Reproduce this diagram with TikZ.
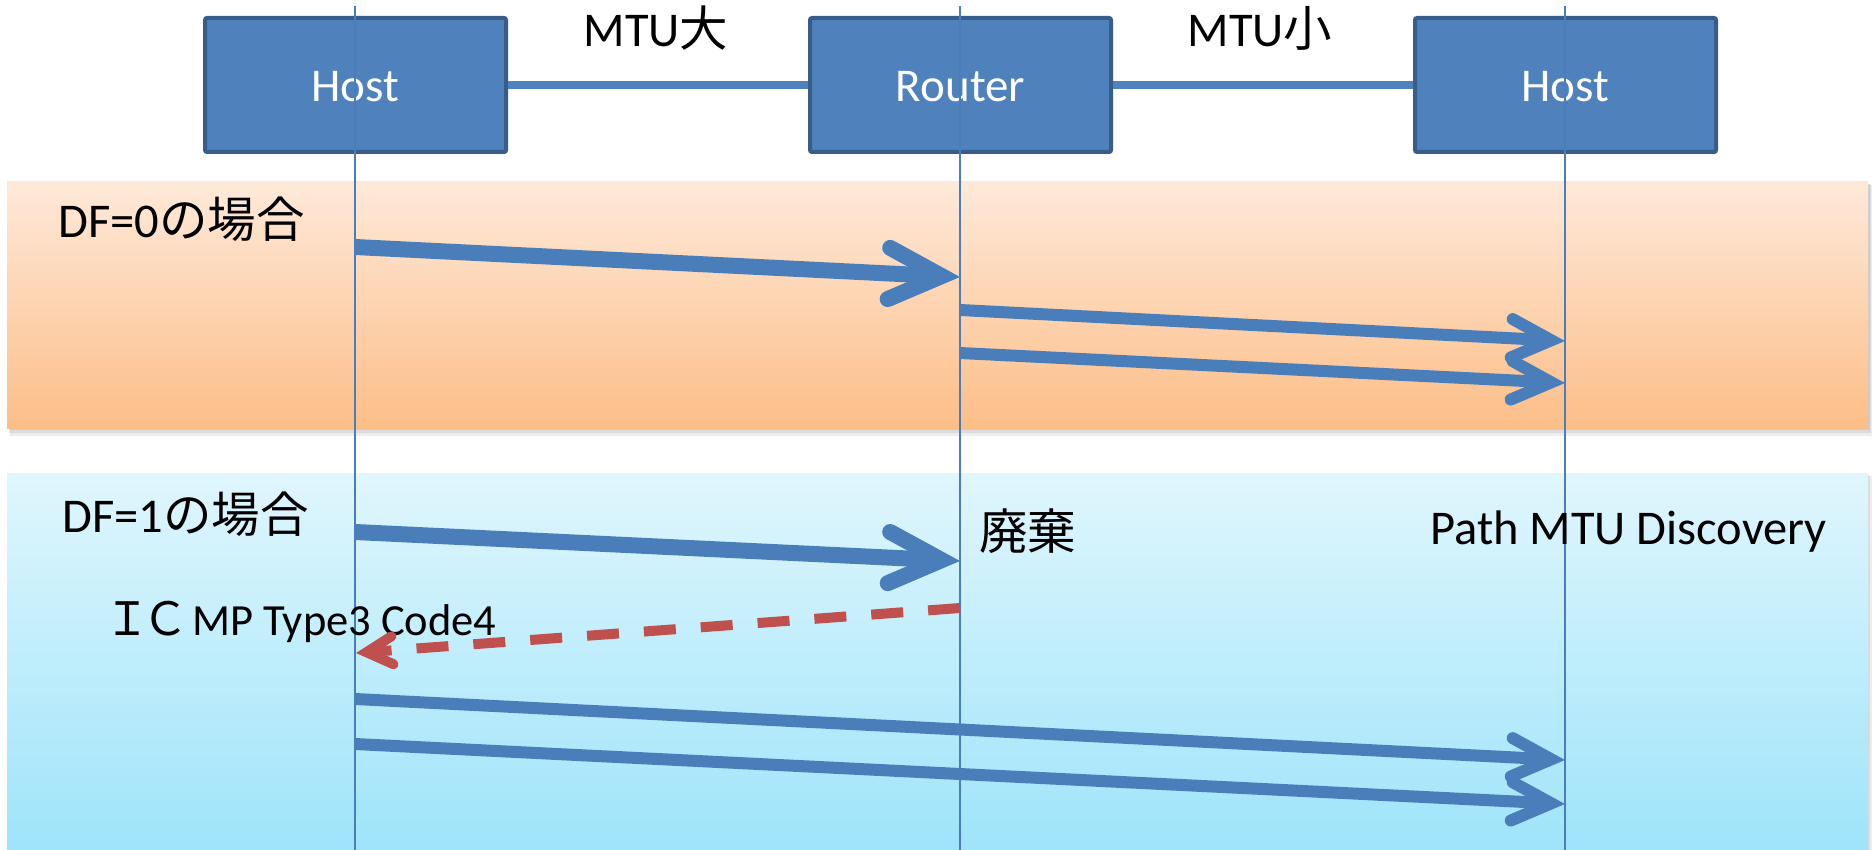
\documentclass[tikz,border=0pt]{standalone}
\usepackage{fontspec}
\setmainfont{Carlito}
\newfontfamily\cjk{Noto Sans CJK JP}
\usetikzlibrary{arrows.meta}
\definecolor{boxfill}{HTML}{4F81BD}
\definecolor{boxdraw}{HTML}{385D8A}
\definecolor{lineblue}{HTML}{4A7EBB}
\definecolor{icmpred}{HTML}{C0504D}
\definecolor{ortop}{RGB}{254,233,217}
\definecolor{orbot}{RGB}{252,190,136}
\definecolor{bltop}{RGB}{224,246,253}
\definecolor{blbot}{RGB}{158,228,250}
\tikzset{
  hostbox/.style={draw=boxdraw, fill=boxfill, line width=4pt, rounded corners=2pt,
    minimum width=301pt, minimum height=134pt, text=white,
    font=\fontsize{47}{52}\selectfont, text height=33pt, text depth=0pt, inner sep=0pt},
  conn/.style={draw=boxfill, line width=8pt},
  life/.style={draw=lineblue, line width=2pt},
  msgbig/.style={draw=lineblue, line width=16pt,
    -{Straight Barb[length=0pt 3.3, width=0pt 3.2, line cap=round, line join=miter]}},
  msg/.style={draw=lineblue, line width=12pt,
    -{Straight Barb[length=0pt 3.3, width=0pt 3.2, line cap=round, line join=miter]}},
  icmp/.style={draw=icmpred, line width=10pt, dash pattern=on 32pt off 25pt,
    -{Straight Barb[length=0pt 2.6, width=0pt 2.8, line cap=round, line join=miter]}},
  lbl/.style={font=\fontsize{48.5}{54}\selectfont, inner sep=0pt, anchor=base west},
  shade/.style={fill=black, opacity=0.07},
}
\begin{document}
\begin{tikzpicture}[x=1pt,y=-1pt]
\useasboundingbox (0,0) rectangle (1876,850);
\fill[white] (0,0) rectangle (1876,850);
% bands with soft shadows
\fill[shade] (9,184) rectangle (1870,430);
\fill[shade] (9,184) rectangle (1871,433);
\fill[shade] (10,185) rectangle (1872,436);
\fill[top color=ortop, bottom color=orbot] (7,182) rectangle (1868,428);
\fill[shade] (9,475) rectangle (1870,850);
\fill[shade] (10,476) rectangle (1872,850);
\fill[top color=bltop, bottom color=blbot] (7,473) rectangle (1868,850);
% boxes
\node[hostbox] (h1) at (355.5,85) {Host};
\node[hostbox] (r) at (960.5,85) {Router};
\node[hostbox] (h2) at (1565.5,85) {Host};
\draw[conn] (h1.east) -- (r.west);
\draw[conn] (r.east) -- (h2.west);
\node[lbl, anchor=base] (mtu1) at (656,47) {MTU{\cjk 大}};
\node[lbl, anchor=base] (mtu2) at (1260,47) {MTU{\cjk 小}};
% lifelines
\coordinate (t1) at (355,6);  \coordinate (b1) at (355,850);
\coordinate (t2) at (960,6);  \coordinate (b2) at (960,850);
\coordinate (t3) at (1565,6); \coordinate (b3) at (1565,850);
\draw[life] (t1) -- (b1);
\draw[life] (t2) -- (b2);
\draw[life] (t3) -- (b3);
% labels
\node[lbl] (df0) at (58,238) {DF=0{\cjk の場合}};
\node[lbl] (df1) at (62,532) {DF=1{\cjk の場合}};
\node[lbl] (haiki) at (979,549) {\cjk 廃棄};
\node[lbl] (pmtud) at (1430,544) {Path MTU Discovery};
\node[lbl] (icmptxt) at (104,635) {{\cjk\fontsize{46}{50}\selectfont Ｉ\kern-8ptＣ}\kern4pt{\fontsize{44.5}{50}\selectfont MP Type3 Code4}};
% message endpoints
\coordinate (a1s) at (355,247);  \coordinate (a1e) at (960,277);
\coordinate (a2s) at (960,310);  \coordinate (a2e) at (1565,341);
\coordinate (a3s) at (960,353);  \coordinate (a3e) at (1565,383);
\coordinate (a4s) at (355,532);  \coordinate (a4e) at (960,561);
\coordinate (a5s) at (960,608);  \coordinate (a5e) at (356,653);
\coordinate (a6s) at (355,699);  \coordinate (a6e) at (1565,760);
\coordinate (a7s) at (355,744);  \coordinate (a7e) at (1565,804);
\draw[msgbig] (a1s) -- (a1e);
\draw[msg] (a2s) -- (a2e);
\draw[msg] (a3s) -- (a3e);
\draw[msgbig] (a4s) -- (a4e);
\draw[icmp] (a5s) -- (a5e);
\draw[msg] (a6s) -- (a6e);
\draw[msg] (a7s) -- (a7e);
\end{tikzpicture}
\end{document}
